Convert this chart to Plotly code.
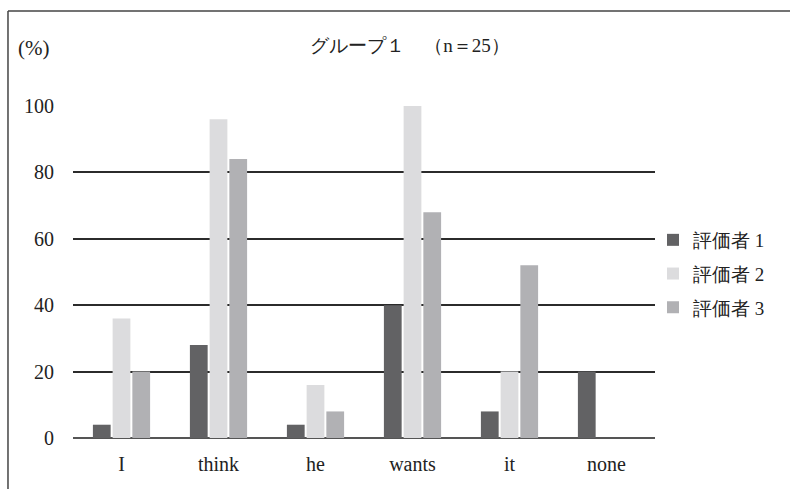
import plotly.graph_objects as go

categories = ["I", "think", "he", "wants", "it", "none"]
rater1 = [4, 28, 4, 40, 8, 20]
rater2 = [36, 96, 16, 100, 20, 0]
rater3 = [20, 84, 8, 68, 52, 0]
series_names = ["評価者 1", "評価者 2", "評価者 3"]
series_colors = ["#626264", "#dcdcde", "#b1b1b4"]
y_ticks = [0, 20, 40, 60, 80, 100]

FONT = "Liberation Serif"

fig = go.Figure()
for i, (name, vals, col) in enumerate(zip(series_names, [rater1, rater2, rater3], series_colors)):
    fig.add_trace(go.Bar(x=categories, y=vals, name=name, legendgroup=f"g{i}",
                         marker=dict(color=col, line=dict(width=0))))

fig.update_layout(
    width=790, height=489,
    margin=dict(l=73, r=135, t=106, b=51, autoexpand=False),
    paper_bgcolor="white", plot_bgcolor="white",
    font=dict(family=FONT, size=20, color="#222"),
    barmode="group", bargap=0.39, bargroupgap=0.1,
    showlegend=True,
    legend=dict(xref="container", yref="container",
                x=653 / 790, y=1 - 274 / 489, xanchor="left", yanchor="middle",
                font=dict(size=19, family=FONT), tracegroupgap=6,
                itemwidth=30,
                itemsizing="constant", bgcolor="rgba(0,0,0,0)"),
    xaxis=dict(showgrid=False, showline=False, zeroline=False,
               ticks="", ticklabelstandoff=12,
               tickfont=dict(size=20, family=FONT)),
    yaxis=dict(range=[0, 100], tickvals=y_ticks, showgrid=True,
               gridcolor="#2b2b2b", gridwidth=1.5,
               zeroline=True, zerolinecolor="#555", zerolinewidth=2,
               showline=False, ticks="", ticklabelstandoff=18,
               tickfont=dict(size=20, family=FONT)),
    title=dict(text="グループ１　（n＝25）", x=410 / 790, xanchor="center",
               y=1 - 45 / 489, yanchor="middle",
               font=dict(size=19, family=FONT, color="#222")),
)

# frame lines (left and top border)
fig.add_shape(type="line", xref="paper", yref="paper",
              x0=-0.1117, x1=-0.1117, y0=-0.16, y1=1.286,
              line=dict(color="#444", width=1.5))
fig.add_shape(type="line", xref="paper", yref="paper",
              x0=-0.1117, x1=1.232, y0=1.286, y1=1.286,
              line=dict(color="#444", width=1.5))

# unit label
fig.add_annotation(text="(%)", xref="paper", yref="paper",
                   x=(33 - 73) / 582, y=1 + (106 - 48) / 332,
                   showarrow=False, xanchor="center", yanchor="middle",
                   font=dict(size=21, family=FONT, color="#222"))

fig.write_html("out.html")
